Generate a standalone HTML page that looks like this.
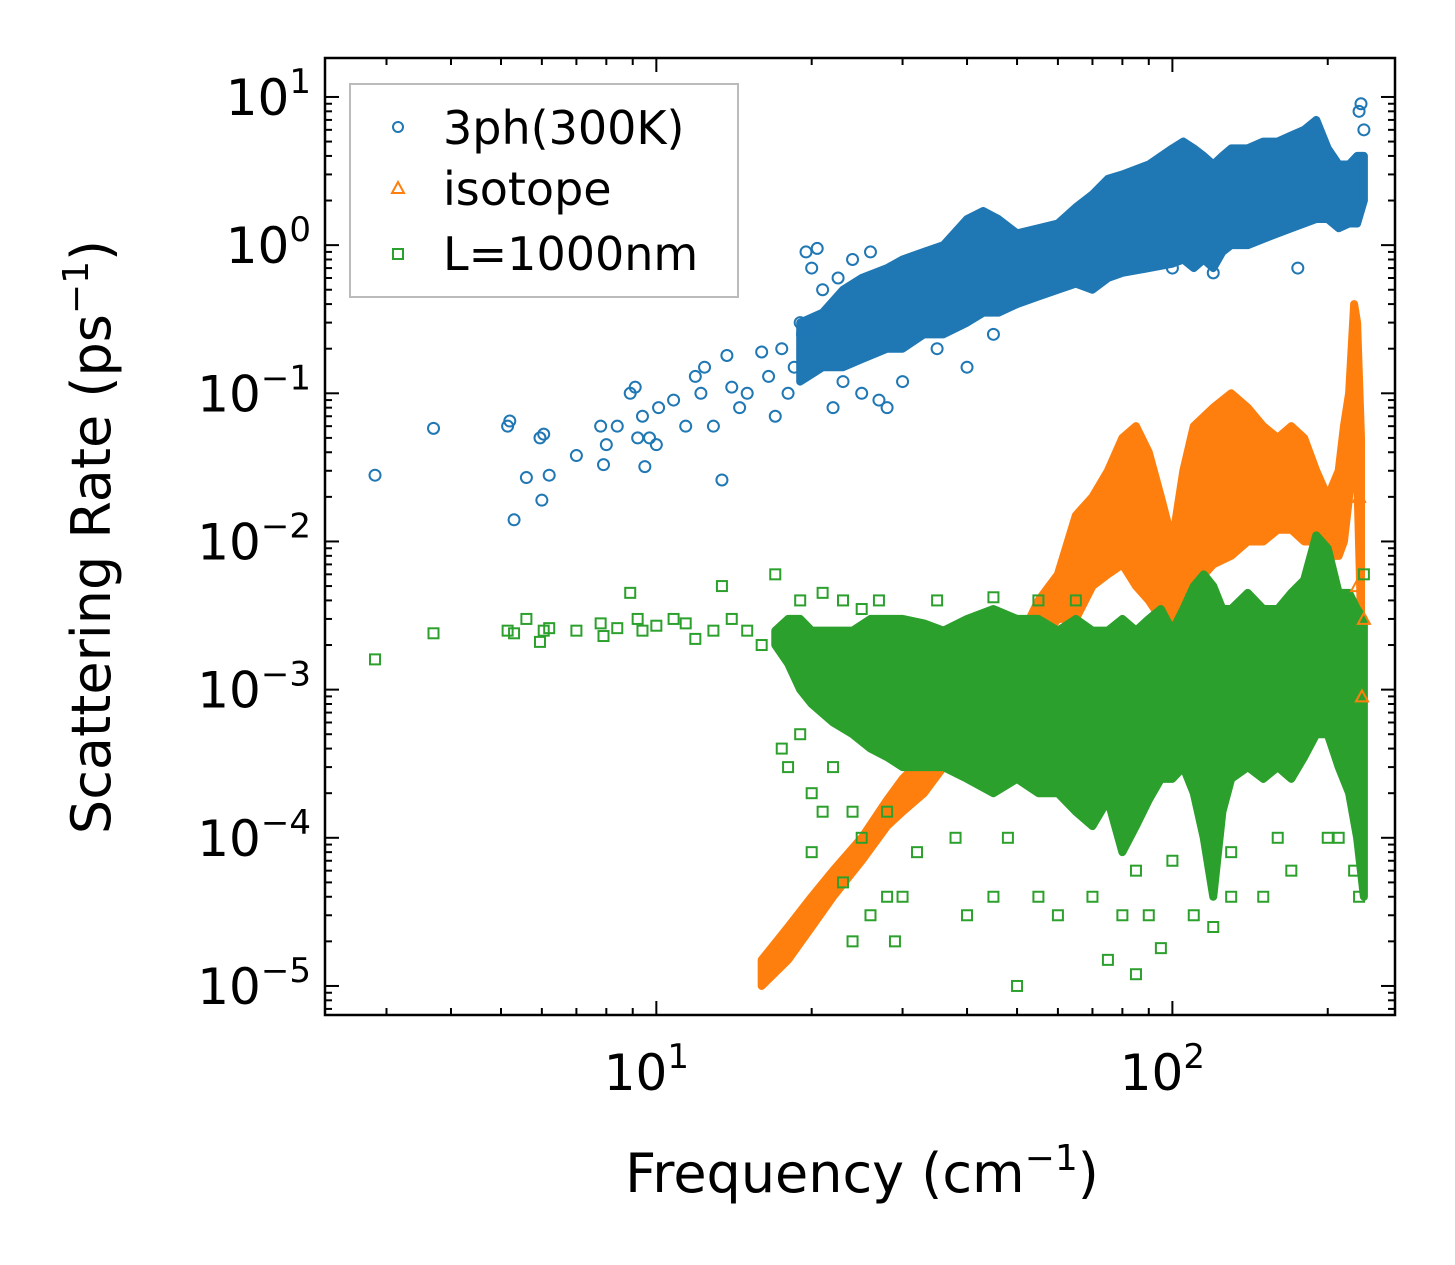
<!DOCTYPE html>
<html><head><meta charset="utf-8"><style>
html,body{margin:0;padding:0;background:#fff;}
svg{display:block;font-family:"DejaVu Sans","Liberation Sans",sans-serif;}
</style></head><body>
<svg id="chart" width="1455" height="1265" viewBox="0 0 1455 1265" xmlns="http://www.w3.org/2000/svg">
<g id="bands"></g>
<g id="marks"></g>
<rect x="325" y="58" width="1070" height="957" fill="none" stroke="#000" stroke-width="2.5"/>
<g id="ticks"></g>
<text x="862" y="1192" font-size="54" text-anchor="middle">Frequency (cm<tspan dy="-22" font-size="36">−1</tspan><tspan dy="22">)</tspan></text>
<text transform="translate(110,537) rotate(-90)" font-size="54" text-anchor="middle">Scattering Rate (ps<tspan dy="-22" font-size="36">−1</tspan><tspan dy="22">)</tspan></text>
<g>
<rect x="350" y="84" width="388" height="213" fill="#fff" stroke="#bbb" stroke-width="2"/>
<circle cx="398" cy="127" r="5" fill="none" stroke="#1f77b4" stroke-width="2"/>
<text x="443" y="144" font-size="46">3ph(300K)</text>
<polygon points="398,182 404,193 392,193" fill="none" stroke="#ff7f0e" stroke-width="2"/>
<text x="443" y="205" font-size="46">isotope</text>
<rect x="393" y="249" width="10" height="10" fill="none" stroke="#2ca02c" stroke-width="2"/>
<text x="443" y="270" font-size="46">L=1000nm</text>
</g>
</svg>
<script>
// ---- data ----
const blueBandFreq=[19,21,23,25,28,30,33,36,40,43,46,50,55,60,65,70,75,80,90,100,105,110,115,120,125,130,140,150,160,170,180,190,200,210,220,228,235];
const blueBandLow=[0.12,0.15,0.15,0.17,0.2,0.2,0.25,0.25,0.3,0.35,0.35,0.4,0.45,0.5,0.55,0.5,0.6,0.65,0.7,0.75,0.8,0.7,0.8,0.7,0.9,1,1,1.1,1.2,1.3,1.4,1.5,1.5,1.3,1.4,1.4,2];
const blueBandHigh=[0.3,0.35,0.5,0.6,0.7,0.8,0.9,1,1.5,1.7,1.5,1.2,1.3,1.4,1.8,2.2,2.8,3,3.5,4.5,5,4.5,4,3.5,4,4.5,4.5,5,5,5.5,6,7,4.5,3.5,3.5,4,4];
const orangeBandFreq=[16,18,20,22,25,28,30,33,36,40,45,50,55,60,65,70,75,80,85,90,95,100,105,110,120,130,140,150,160,170,180,190,200,210,215,220,225,228,232];
const orangeBandLow=[1e-5,1.5e-5,2.5e-5,4e-5,7e-5,1.2e-4,1.5e-4,2e-4,3e-4,5e-4,8e-4,1e-3,2e-3,3e-3,3e-3,5e-3,6e-3,7e-3,5e-3,4e-3,3e-3,2e-3,3e-3,5e-3,7e-3,8e-3,1e-2,1e-2,1.2e-2,1.2e-2,1e-2,1e-2,8e-3,8e-3,1e-2,2e-2,4e-2,3e-2,3e-3];
const orangeBandHigh=[1.5e-5,2.5e-5,4e-5,6e-5,1e-4,1.8e-4,2.5e-4,3.5e-4,5e-4,8e-4,1.5e-3,2e-3,4e-3,6e-3,1.5e-2,2e-2,3e-2,5e-2,6e-2,4e-2,2e-2,1e-2,3e-2,6e-2,8e-2,1e-1,8e-2,6e-2,5e-2,6e-2,5e-2,3e-2,2e-2,3e-2,6e-2,1e-1,4e-1,3e-1,5e-2];
const greenBandFreq=[17,18,19,20,22,24,26,28,30,33,36,40,45,50,55,60,65,70,75,80,85,90,95,100,105,110,115,120,125,130,140,150,160,170,180,190,200,210,220,228,235];
const greenBandLow=[2e-3,1.5e-3,1e-3,8e-4,6e-4,5e-4,4e-4,3.5e-4,3e-4,3e-4,3e-4,2.5e-4,2e-4,2.5e-4,2e-4,2e-4,1.5e-4,1.2e-4,1.8e-4,8e-5,1.2e-4,1.8e-4,2.5e-4,2.5e-4,3e-4,2e-4,1e-4,4e-5,1.5e-4,2.5e-4,3e-4,2.5e-4,3e-4,2.5e-4,3.5e-4,5e-4,5e-4,3e-4,2e-4,1e-4,4e-5];
const greenBandHigh=[2.5e-3,3e-3,3e-3,2.5e-3,2.5e-3,2.5e-3,3e-3,3e-3,3e-3,2.8e-3,2.5e-3,3e-3,3.5e-3,3e-3,3e-3,2.5e-3,3e-3,2.5e-3,2.5e-3,3e-3,2.5e-3,3e-3,3.5e-3,2.5e-3,3.5e-3,5e-3,6e-3,5e-3,3.5e-3,3.5e-3,4.5e-3,3.5e-3,3.5e-3,4.5e-3,5.5e-3,1.1e-2,9e-3,4.5e-3,4.5e-3,3.5e-3,3e-3];
const blueFreq=[2.85,3.7,5.15,5.2,5.3,5.6,5.95,6.0,6.05,6.2,7.0,7.8,7.9,8.0,8.4,8.9,9.1,9.2,9.4,9.5,9.7,10.1,10.0,10.8,11.4,11.9,12.2,12.4,12.9,13.4,13.7,14,14.5,15,16,16.5,17,17.5,18,19,19.5,20,20.5,21,22,22.5,23,24,25,26,27,28,30,35,40,45,100,120,175,230,232,235,18.5,19.2,21.5,24.5,27.5,31];
const blueRate=[0.028,0.058,0.06,0.065,0.014,0.027,0.05,0.019,0.053,0.028,0.038,0.06,0.033,0.045,0.06,0.1,0.11,0.05,0.07,0.032,0.05,0.08,0.045,0.09,0.06,0.13,0.1,0.15,0.06,0.026,0.18,0.11,0.08,0.1,0.19,0.13,0.07,0.2,0.1,0.3,0.9,0.7,0.95,0.5,0.08,0.6,0.12,0.8,0.1,0.9,0.09,0.08,0.12,0.2,0.15,0.25,0.7,0.65,0.7,8,9,6,0.15,0.25,0.3,0.4,0.5,0.6];
const orangeFreq=[233,235,230,228];
const orangeRate=[0.0009,0.003,0.02,0.005];
const greenFreq=[2.85,3.7,5.15,5.3,5.6,5.95,6.05,6.2,7.0,7.8,7.9,8.4,8.9,9.2,9.4,10,10.8,11.4,11.9,12.9,13.4,14,15,16,17,17.5,18,19,20,20,21,22,23,24,25,26,28,29,30,32,40,45,50,55,60,70,75,80,85,90,95,110,120,130,150,170,200,230,235,19,21,23,25,27,35,45,55,65,85,100,130,160,210,225,20,24,28,38,48];
const greenRate=[0.0016,0.0024,0.0025,0.0024,0.003,0.0021,0.0025,0.0026,0.0025,0.0028,0.0023,0.0026,0.0045,0.003,0.0025,0.0027,0.003,0.0028,0.0022,0.0025,0.005,0.003,0.0025,0.002,0.006,0.0004,0.0003,0.0005,0.0015,0.00008,0.00015,0.0003,0.00005,0.00002,0.0001,0.00003,0.00004,0.00002,0.00004,0.00008,0.00003,0.00004,0.00001,0.00004,0.00003,0.00004,0.000015,0.00003,0.000012,0.00003,0.000018,0.00003,0.000025,0.00004,0.00004,0.00006,0.0001,0.00004,0.006,0.004,0.0045,0.004,0.0035,0.004,0.004,0.0042,0.004,0.004,0.00006,0.00007,0.00008,0.0001,0.0001,0.00006,0.0002,0.00015,0.00015,0.0001,0.0001];
const xTickVals=[10,100];
const xTickLabels=["1","2"];
const yTickVals=[10,1,0.1,0.01,0.001,0.0001,0.00001];
const yTickLabels=["1","0","−1","−2","−3","−4","−5"];
// ---- axes ----
const L=325,R=1395,T=58,B=1015;
const xMin=Math.log10(2.28),xMax=Math.log10(270),yMin=-5.196,yMax=1.263;
const X=v=>L+(Math.log10(v)-xMin)/(xMax-xMin)*(R-L);
const Y=v=>B-(Math.log10(v)-yMin)/(yMax-yMin)*(B-T);
const NS="http://www.w3.org/2000/svg";
const mk=(t,a,p)=>{const e=document.createElementNS(NS,t);for(const k in a)e.setAttribute(k,a[k]);p.appendChild(e);return e;};
const bands=document.getElementById('bands'),marks=document.getElementById('marks'),ticks=document.getElementById('ticks');
function band(f,lo,hi,c,name){
  const pts=f.map((v,i)=>X(v)+','+Y(hi[i])).concat(f.map((v,i)=>X(v)+','+Y(lo[i])).reverse());
  const p=mk('polygon',{points:pts.join(' '),fill:c,stroke:c,'stroke-width':8,'stroke-linejoin':'round'},bands);
  
  
}
band(blueBandFreq,blueBandLow,blueBandHigh,'#1f77b4','band-3ph');
band(orangeBandFreq,orangeBandLow,orangeBandHigh,'#ff7f0e','band-isotope');
band(greenBandFreq,greenBandLow,greenBandHigh,'#2ca02c','band-boundary');
blueFreq.forEach((f,i)=>{const e=mk('circle',{cx:X(f),cy:Y(blueRate[i]),r:5.5,fill:'none',stroke:'#1f77b4','stroke-width':2},marks);
  
  });
orangeFreq.forEach((f,i)=>{const x=X(f),y=Y(orangeRate[i]);const e=mk('polygon',{points:`${x},${y-6} ${x+6},${y+5} ${x-6},${y+5}`,fill:'none',stroke:'#ff7f0e','stroke-width':2},marks);
  
  });
greenFreq.forEach((f,i)=>{const e=mk('rect',{x:X(f)-5,y:Y(greenRate[i])-5,width:10,height:10,fill:'none',stroke:'#2ca02c','stroke-width':2},marks);
  
  });
// ticks
for(let d=0;d<=2;d++)for(let m=1;m<10;m++){const v=m*Math.pow(10,d);if(Math.log10(v)<xMin||Math.log10(v)>xMax)continue;const x=X(v),len=m==1?14:7;
  mk('line',{x1:x,x2:x,y1:B,y2:B-len,stroke:'#000','stroke-width':2},ticks);mk('line',{x1:x,x2:x,y1:T,y2:T+len,stroke:'#000','stroke-width':2},ticks);}
for(let d=-6;d<=1;d++)for(let m=1;m<10;m++){const v=m*Math.pow(10,d);const lv=Math.log10(v);if(lv<yMin||lv>yMax)continue;const y=Y(v),len=m==1?14:7;
  mk('line',{x1:L,x2:L+len,y1:y,y2:y,stroke:'#000','stroke-width':2},ticks);mk('line',{x1:R,x2:R-len,y1:y,y2:y,stroke:'#000','stroke-width':2},ticks);}
xTickVals.forEach((v,i)=>{const t=mk('text',{x:X(v)-10,y:1090,'font-size':50,'text-anchor':'middle'},ticks);t.textContent='10';
  
  
  const s=mk('tspan',{dy:-22,'font-size':34},t);s.textContent=xTickLabels[i];});
yTickVals.forEach((v,i)=>{const t=mk('text',{x:L-14,y:Y(v)+18,'font-size':50,'text-anchor':'end'},ticks);
  
  
  const a=mk('tspan',{},t);a.textContent='10';const s=mk('tspan',{dy:-22,'font-size':34},t);s.textContent=yTickLabels[i];});
</script>
</body></html>
